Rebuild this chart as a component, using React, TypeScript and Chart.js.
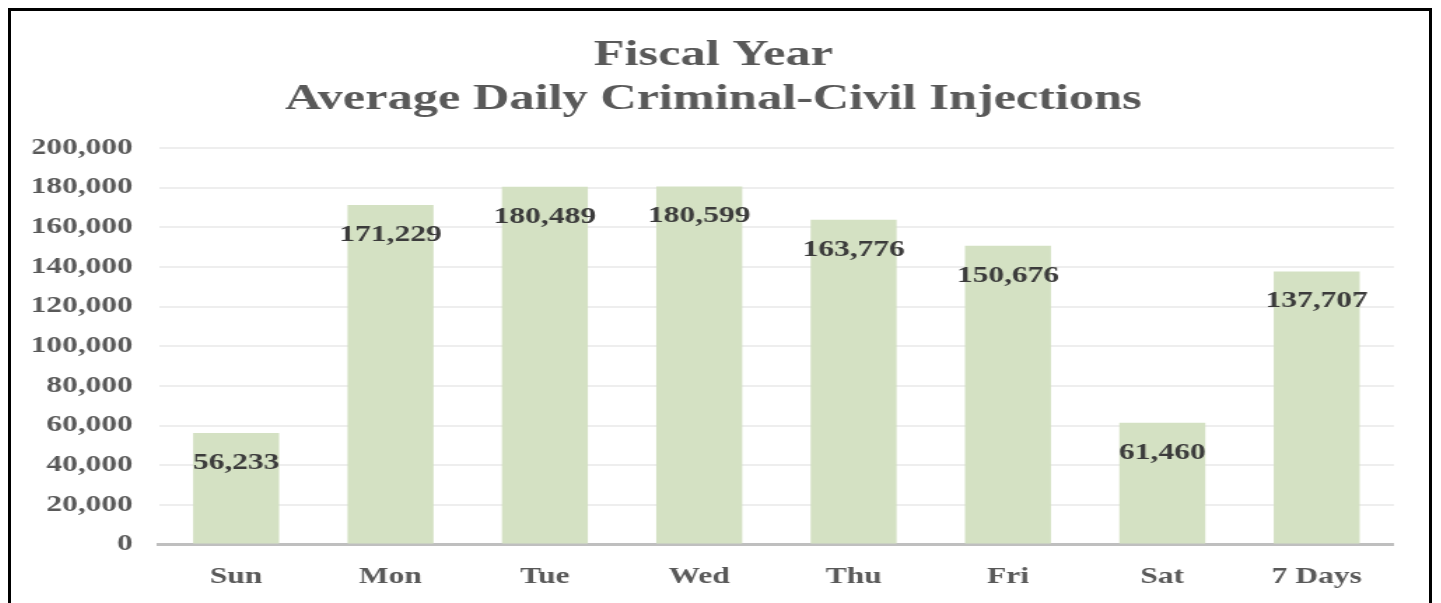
import React, { useEffect, useRef } from "react";
import { Chart, registerables } from "chart.js";

Chart.register(...registerables);

const categories = ["Sun", "Mon", "Tue", "Wed", "Thu", "Fri", "Sat", "7 Days"];
const values = [56233, 171229, 180489, 180599, 163776, 150676, 61460, 137707];
const titleLines = ["Fiscal Year", "Average Daily Criminal-Civil Injections"];
const yMin = 0;
const yMax = 200000;
const yStep = 20000;

const FONT = '"Liberation Serif", "Times New Roman", serif';
const STRETCH = 1.4;
const CSS_W = 1418;
const CSS_H = 592;
const INNER_W = Math.round(CSS_W / STRETCH);
const LABEL_SIZE = 22.5;

const fmt = (v: number) => v.toLocaleString("en-US");

const dataLabelPlugin = {
  id: "barValueLabels",
  afterDatasetsDraw(chart: any) {
    const ctx = chart.ctx;
    const meta = chart.getDatasetMeta(0);
    ctx.save();
    ctx.font = `bold ${LABEL_SIZE}px ${FONT}`;
    ctx.fillStyle = "#3b3b3b";
    ctx.textAlign = "center";
    ctx.textBaseline = "alphabetic";
    meta.data.forEach((el: any, i: number) => {
      ctx.fillText(fmt(values[i]), el.x, el.y + 36);
    });
    ctx.restore();
  },
};

export default function App() {
  const ref = useRef<HTMLCanvasElement | null>(null);

  useEffect(() => {
    document.documentElement.style.overflow = "hidden";
    document.body.style.overflow = "hidden";
    const canvas = ref.current!;
    const chart = new Chart(canvas, {
      type: "bar",
      data: {
        labels: categories,
        datasets: [
          {
            data: values,
            backgroundColor: "#d4e1c3",
            borderWidth: 0,
            categoryPercentage: 1,
            barPercentage: 0.557,
          },
        ],
      },
      options: {
        responsive: false,
        animation: false,
        devicePixelRatio: 1,
        layout: { padding: { left: 15.6, right: 25.1, top: 0, bottom: 14 } },
        plugins: {
          legend: { display: false },
          tooltip: { enabled: false },
          title: {
            display: true,
            text: titleLines,
            color: "#595959",
            font: { family: FONT, size: 36, weight: "bold", lineHeight: 44.5 / 36 },
            padding: { top: 22, bottom: 26 },
          },
        },
        scales: {
          x: {
            grid: { display: false, drawTicks: false },
            border: { display: true, color: "#bfbfbf", width: 3 },
            ticks: {
              color: "#595959",
              font: { family: FONT, size: LABEL_SIZE, weight: "bold" },
              padding: 19.5,
              maxRotation: 0,
            },
            afterFit: (scale: any) => {
              scale.height = 44.5;
            },
          },
          y: {
            min: yMin,
            max: yMax,
            ticks: {
              stepSize: yStep,
              color: "#595959",
              font: { family: FONT, size: LABEL_SIZE, weight: "bold" },
              padding: 18.6,
              callback: (v: any) => fmt(Number(v)),
            },
            grid: { color: "#eeeeee", lineWidth: 2, drawTicks: false },
            border: { display: false },
            afterFit: (scale: any) => {
              scale.width = 90.1;
            },
          },
        },
      },
      plugins: [dataLabelPlugin],
    });
    return () => chart.destroy();
  }, []);

  return (
    <div
      style={{
        width: CSS_W,
        borderTop: "3px solid #000",
        borderLeft: "3px solid #000",
        borderRight: "3px solid #000",
        background: "#fff",
      }}
    >
      <canvas
        ref={ref}
        width={INNER_W}
        height={CSS_H}
        style={{ display: "block", width: CSS_W + "px", height: CSS_H + "px" }}
      />
    </div>
  );
}
